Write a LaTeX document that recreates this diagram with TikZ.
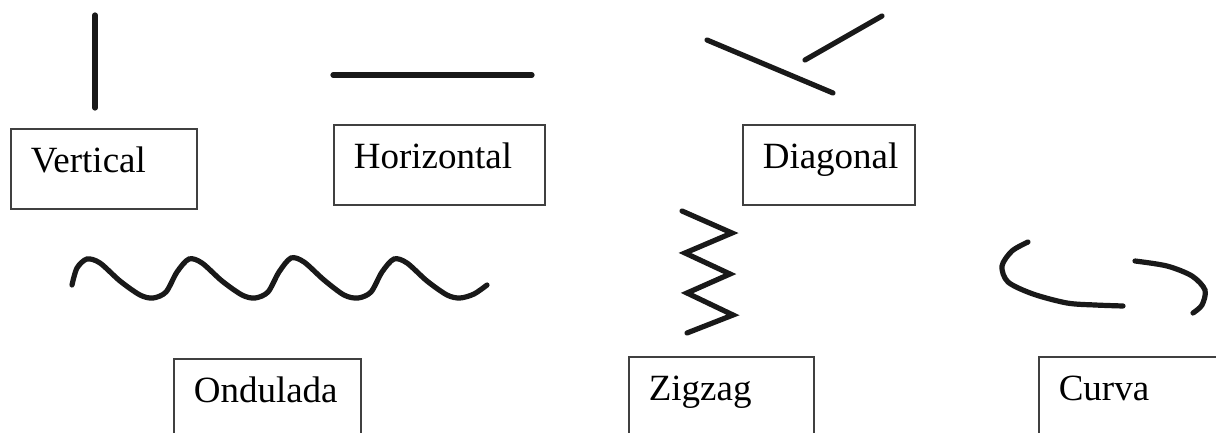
\documentclass[tikz,border=0pt]{standalone}
\usepackage{fontspec}
\setmainfont{Liberation Serif}

\tikzset{
  stroke/.style={line width=2.6pt, line cap=round, black!90},
  box/.style={draw=black!75, line width=0.8pt, anchor=north west,
    inner xsep=10pt, inner ysep=0pt, text height=22pt, text depth=18pt,
    align=left, font=\fontsize{18.5}{22}\selectfont}
}

\begin{document}
\begin{tikzpicture}[x=0.5pt, y=-0.5pt]
    \clip (0,0) rectangle (1216,433);

    \draw[stroke] (95,15) -- (95,108);
    \draw[stroke] (333,75) -- (532,75);
    \draw[stroke] (707,40) -- (833,93);
    \draw[stroke] (805,60) -- (882,16);

    \draw[stroke]
      plot[smooth] coordinates {
        (72,285) (77,268) (87,259) (100,263) (120,281) (140,295)
        (153,298) (166,292) (177,272) (189,259) (202,263) (222,281)
        (242,295) (255,298) (268,292) (279,272) (291,258) (304,262)
        (324,280) (344,295) (358,298) (371,292) (382,272) (394,259)
        (407,263) (427,281) (447,295) (460,298) (474,294) (487,285)
      };
    \draw[stroke]
      (682,211) -- (732,233) -- (685,253) -- (730,274) --
      (687,293) -- (733,315) -- (687,333);
    \draw[stroke]
      plot[smooth] coordinates {
        (1028,242) (1012,251) (1002,266) (1008,282) (1033,294)
        (1067,303) (1095,305) (1123,306)
      };
    \draw[stroke]
      plot[smooth] coordinates {
        (1135,261) (1167,266) (1192,276) (1205,290) (1202,305) (1193,313)
      };

    \node[box, text width=73pt] (vertical) at (10,128) {Vertical};
    \node[box, text width=85.5pt] (horizontal) at (333,124) {Horizontal};
    \node[box, text width=66pt] (diagonal) at (742,124) {Diagonal};
    \node[box, text width=73.5pt] (ondulada) at (173,358) {Ondulada};
    \node[box, text width=72.5pt] (zigzag) at (628,356) {Zigzag};
    \node[box, text width=73pt] (curva) at (1038,356) {Curva};
\end{tikzpicture}
\end{document}
